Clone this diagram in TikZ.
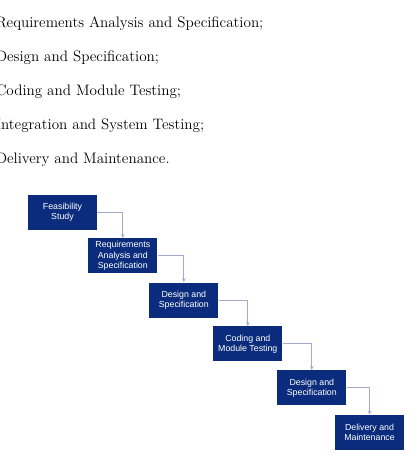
\documentclass[tikz,border=0pt]{standalone}
\usepackage{fontspec}
\newfontfamily\boxfont{Liberation Sans}
\usetikzlibrary{arrows.meta}
\definecolor{navy}{HTML}{0B2C7C}
\definecolor{conn}{HTML}{A3ABCB}
\begin{document}
\begin{tikzpicture}[x=0.75pt,y=-0.75pt,
  stage/.style={fill=navy,draw=none,text=white,minimum width=51.75pt,minimum height=26.25pt,
    inner sep=0pt,align=center,font=\boxfont\fontsize{6.6}{7.6}\selectfont},
  listline/.style={anchor=base west,inner sep=0pt,font=\fontsize{11.35}{13}\selectfont},
  link/.style={draw=conn,line width=0.6pt,-{Stealth[length=3pt,width=2.6pt]}}]
\useasboundingbox (0,0) rectangle (412,458);
\node[listline] (l1) at (-4.5,27.5) {Requirements Analysis and Specification;};
\node[listline] (l2) at (-4.5,61.5) {Design and Specification;};
\node[listline] (l3) at (-4.5,95.5) {Coding and Module Testing;};
\node[listline] (l4) at (-4.5,129.5) {Integration and System Testing;};
\node[listline] (l5) at (-4.5,163.5) {Delivery and Maintenance.};
\node[stage] (b1) at (62.5,212.5) {Feasibility\\Study};
\node[stage] (b2) at (122.8,255.8) {Requirements\\Analysis and\\Specification};
\node[stage] (b3) at (183.8,300) {Design and\\Specification};
\node[stage] (b4) at (247.8,343.8) {Coding and\\Module Testing};
\node[stage] (b5) at (311.8,387.8) {Design and\\Specification};
\node[stage] (b6) at (369.5,432.3) {Delivery and\\Maintenance};
\draw[link] (b1.east) -| (b2.north);
\draw[link] (b2.east) -| (b3.north);
\draw[link] (b3.east) -| (b4.north);
\draw[link] (b4.east) -| (b5.north);
\draw[link] (b5.east) -| (b6.north);
\end{tikzpicture}
\end{document}
